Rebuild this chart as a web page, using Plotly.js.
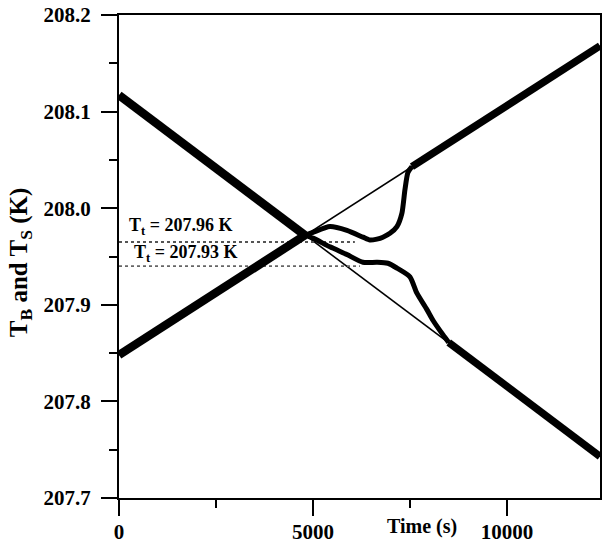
<!DOCTYPE html>
<html>
<head>
<meta charset="utf-8">
<script src="https://cdn.plot.ly/plotly-3.0.1.min.js"></script>
<style>html,body{margin:0;padding:0;background:#fff}#chart{width:602px;height:543px}</style>
</head>
<body>
<div id="chart"></div>
<script>
// Straight-line fits (extrapolations) of the two temperature ramps
const fitTime = [0, 12400];
const riseFit = [207.848, 208.168];
const fallFit = [208.117, 207.743];

// Thick measured segments before the crossing
const preTime = [0, 4794];
const risePre = [207.848, 207.972];
const fallPre = [208.117, 207.972];

// Measured curve that departs upward from the crossing and rejoins the rising ramp
const upperTime = [4794, 5000, 5438, 5876, 6289, 6469, 6649, 6804, 6985, 7165, 7294, 7371, 7448, 7552];
const upperTemp = [207.972, 207.975, 207.981, 207.977, 207.970, 207.967, 207.968, 207.970, 207.974, 207.981, 207.995, 208.019, 208.037, 208.043];

// Measured curve that departs downward from the crossing and rejoins the falling ramp
const lowerTime = [4794, 5000, 5438, 5876, 6289, 6649, 6933, 7165, 7500, 7680, 7938, 8093, 8351, 8500];
const lowerTemp = [207.972, 207.969, 207.960, 207.952, 207.944, 207.944, 207.943, 207.938, 207.929, 207.912, 207.895, 207.884, 207.869, 207.861];

// Thick measured segments after the curves rejoin
const risePostTime = [7552, 12400];
const risePost = [208.043, 208.168];
const fallPostTime = [8500, 12400];
const fallPost = [207.861, 207.743];

// Transition temperature levels (dotted)
const ttLevels = [207.965, 207.940];
const ttEnds = [6080, 6210];
const ttLabels = ['T<sub>t</sub> = 207.96 K', 'T<sub>t</sub> = 207.93 K'];

const blk = '#000';
const traces = [
  {x: fitTime, y: riseFit, mode: 'lines', line: {color: blk, width: 1.6}},
  {x: fitTime, y: fallFit, mode: 'lines', line: {color: blk, width: 1.6}},
  {x: [0, ttEnds[0]], y: [ttLevels[0], ttLevels[0]], mode: 'lines', line: {color: '#555', width: 1.8, dash: 'dot'}},
  {x: [0, ttEnds[1]], y: [ttLevels[1], ttLevels[1]], mode: 'lines', line: {color: '#666', width: 1.8, dash: 'dot'}},
  {x: preTime, y: risePre, mode: 'lines', line: {color: blk, width: 8.5}},
  {x: preTime, y: fallPre, mode: 'lines', line: {color: blk, width: 8.5}},
  {x: upperTime, y: upperTemp, mode: 'lines', line: {color: blk, width: 5, shape: 'spline', smoothing: 0.6}},
  {x: lowerTime, y: lowerTemp, mode: 'lines', line: {color: blk, width: 5, shape: 'spline', smoothing: 0.6}},
  {x: risePostTime, y: risePost, mode: 'lines', line: {color: blk, width: 7.5}},
  {x: fallPostTime, y: fallPost, mode: 'lines', line: {color: blk, width: 7.5}}
];

const serif = 'Liberation Serif, Times New Roman, serif';
const tickFont = {family: serif, size: 21, color: '#000', weight: 'bold'};
const annFont = {family: serif, size: 18, color: '#000', weight: 'bold'};

const layout = {
  width: 602, height: 543,
  margin: {l: 119, r: 2, t: 15, b: 45},
  paper_bgcolor: '#fff', plot_bgcolor: '#fff',
  showlegend: false,
  xaxis: {
    range: [0, 12400], showgrid: false, zeroline: false,
    showline: true, linecolor: '#000', linewidth: 2, mirror: true,
    ticks: 'outside', ticklen: 16, tickwidth: 2, tickcolor: '#000',
    tickvals: [0, 5000, 10000], ticktext: ['0', '5000', '10000'],
    minor: {tickvals: [2500, 7500], ticklen: 8, tickwidth: 2, tickcolor: '#000', ticks: 'outside'},
    tickfont: tickFont, ticklabelstandoff: -2
  },
  yaxis: {
    range: [207.7, 208.2], showgrid: false, zeroline: false,
    showline: true, linecolor: '#000', linewidth: 2, mirror: true,
    ticks: 'outside', ticklen: 16, tickwidth: 2, tickcolor: '#000',
    dtick: 0.1, tick0: 207.7, tickformat: '.1f',
    minor: {dtick: 0.05, ticklen: 8, tickwidth: 2, tickcolor: '#000', ticks: 'outside'},
    tickfont: tickFont, ticklabelstandoff: 6
  },
  annotations: [
    {x: 206, y: 207.981, xref: 'x', yref: 'y', text: ttLabels[0], showarrow: false, xanchor: 'left', yanchor: 'middle', font: annFont},
    {x: 335, y: 207.953, xref: 'x', yref: 'y', text: ttLabels[1], showarrow: false, xanchor: 'left', yanchor: 'middle', font: annFont},
    {x: -0.205, y: 0.489, xref: 'paper', yref: 'paper', text: 'T<sub>B</sub> and T<sub>S</sub> (K)', textangle: -90, showarrow: false, xanchor: 'center', yanchor: 'middle', font: {family: serif, size: 25, color: '#000', weight: 'bold'}},
    {x: 0.63, y: -0.06, xref: 'paper', yref: 'paper', text: 'Time (s)', showarrow: false, xanchor: 'center', yanchor: 'middle', font: {family: serif, size: 20, color: '#000', weight: 'bold'}}
  ]
};

Plotly.newPlot('chart', traces, layout, {staticPlot: true, displayModeBar: false});
</script>
</body>
</html>
